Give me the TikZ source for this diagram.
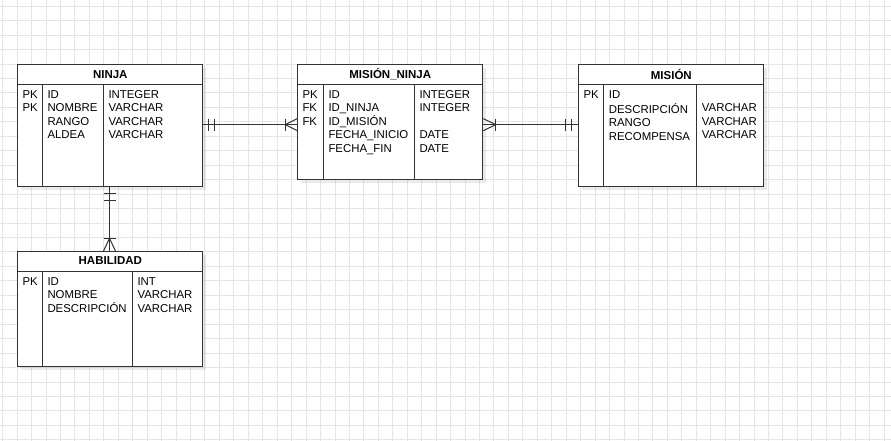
\documentclass[tikz,border=0pt]{standalone}
\usepackage{fontspec}
\setmainfont{Liberation Sans}
\usetikzlibrary{positioning,shadows}

\tikzset{
	rejilla/.style={draw=black!10, line width=0.8pt},
	tabla/.style={draw=black!80, line width=1pt, fill=white, inner sep=0pt, anchor=north west,
		drop shadow={shadow xshift=3pt, shadow yshift=-3pt, fill=black, opacity=0.08}},
	borde/.style={draw=black!80, line width=1pt},
	titulo/.style={font=\fontsize{11.5}{13.5}\selectfont\bfseries, inner sep=0pt},
	col/.style={font=\fontsize{11.4}{13.5}\selectfont, align=left, anchor=north west, inner sep=0pt},
	enlace/.style={draw=black!80, line width=1pt}
}

\begin{document}
\begin{tikzpicture}[x=1pt, y=-1pt]
	\useasboundingbox (0,0) rectangle (891,441);
	\fill[white] (0,0) rectangle (891,441);

	% grid
	\foreach \i in {0,...,61}
		\draw[rejilla] ({2.55+14.45*\i},0) -- ++(0,441);
	\foreach \j in {0,...,30}
		\draw[rejilla] (0,{6.2+14.45*\j}) -- ++(891,0);

	% NINJA
	\node[tabla, minimum width=185pt, minimum height=121.7pt] (ninja) at (17.3,64.3) {};
	\draw[borde] ([yshift=-20pt]ninja.north west) -- ([yshift=-20pt]ninja.north east);
	\draw[borde] ([xshift=25pt,yshift=-20pt]ninja.north west) -- ([xshift=25pt]ninja.south west);
	\draw[borde] ([xshift=86pt,yshift=-20pt]ninja.north west) -- ([xshift=86pt]ninja.south west);
	\node[titulo] (ninja-t) at ([yshift=-10pt]ninja.north) {NINJA};
	\node[col] (ninja-k) at ([xshift=5pt,yshift=-24.5pt]ninja.north west) {\strut PK\\PK};
	\node[col] (ninja-c) at ([xshift=30pt,yshift=-24.5pt]ninja.north west) {\strut ID\\NOMBRE\\RANGO\\ALDEA};
	\node[col] (ninja-d) at ([xshift=91pt,yshift=-24.5pt]ninja.north west) {\strut INTEGER\\VARCHAR\\VARCHAR\\VARCHAR};

	% MISION_NINJA
	\node[tabla, minimum width=185pt, minimum height=115pt] (mnin) at (297.3,64.3) {};
	\draw[borde] ([yshift=-20pt]mnin.north west) -- ([yshift=-20pt]mnin.north east);
	\draw[borde] ([xshift=26pt,yshift=-20pt]mnin.north west) -- ([xshift=26pt]mnin.south west);
	\draw[borde] ([xshift=117pt,yshift=-20pt]mnin.north west) -- ([xshift=117pt]mnin.south west);
	\node[titulo] (mnin-t) at ([yshift=-10pt]mnin.north) {MISIÓN\_NINJA};
	\node[col] (mnin-k) at ([xshift=5pt,yshift=-24.5pt]mnin.north west) {\strut PK\\FK\\FK};
	\node[col] (mnin-c) at ([xshift=31pt,yshift=-24.5pt]mnin.north west) {\strut ID\\ID\_NINJA\\ID\_MISIÓN\\FECHA\_INICIO\\FECHA\_FIN};
	\node[col] (mnin-d) at ([xshift=122pt,yshift=-24.5pt]mnin.north west) {\strut INTEGER\\INTEGER\\\strut\\DATE\\DATE};

	% MISION
	\node[tabla, minimum width=185pt, minimum height=121.7pt] (mision) at (578.3,64.3) {};
	\draw[borde] ([yshift=-20pt]mision.north west) -- ([yshift=-20pt]mision.north east);
	\draw[borde] ([xshift=25.4pt,yshift=-20pt]mision.north west) -- ([xshift=25.4pt]mision.south west);
	\draw[borde] ([xshift=118.4pt,yshift=-20pt]mision.north west) -- ([xshift=118.4pt]mision.south west);
	\node[titulo] (mision-t) at ([yshift=-10pt]mision.north) {MISIÓN};
	\node[col] (mision-k) at ([xshift=5pt,yshift=-24.5pt]mision.north west) {\strut PK};
	\node[col] (mision-c) at ([xshift=30.4pt,yshift=-24.5pt]mision.north west) {\strut ID\\DESCRIPCIÓN\\RANGO\\RECOMPENSA};
	\node[col] (mision-d) at ([xshift=123.4pt,yshift=-24.5pt]mision.north west) {\strut\\VARCHAR\\VARCHAR\\VARCHAR};

	% HABILIDAD
	\node[tabla, minimum width=185pt, minimum height=115pt] (habil) at (17.3,251) {};
	\draw[borde] ([yshift=-20.7pt]habil.north west) -- ([yshift=-20.7pt]habil.north east);
	\draw[borde] ([xshift=25pt,yshift=-20.7pt]habil.north west) -- ([xshift=25pt]habil.south west);
	\draw[borde] ([xshift=115pt,yshift=-20.7pt]habil.north west) -- ([xshift=115pt]habil.south west);
	\node[titulo] (habil-t) at ([yshift=-10pt]habil.north) {HABILIDAD};
	\node[col] (habil-k) at ([xshift=5pt,yshift=-24.5pt]habil.north west) {\strut PK};
	\node[col] (habil-c) at ([xshift=30pt,yshift=-24.5pt]habil.north west) {\strut ID\\NOMBRE\\DESCRIPCIÓN};
	\node[col] (habil-d) at ([xshift=120pt,yshift=-24.5pt]habil.north west) {\strut INT\\VARCHAR\\VARCHAR};

	% NINJA -- MISION_NINJA
	\coordinate (a1) at ([yshift=1pt]ninja.east);
	\coordinate (a2) at (a1 -| mnin.west);
	\draw[enlace] (a1) -- (a2);
	\draw[enlace] ([xshift=5pt,yshift=6pt]a1) -- ([xshift=5pt,yshift=-6pt]a1);
	\draw[enlace] ([xshift=11pt,yshift=6pt]a1) -- ([xshift=11pt,yshift=-6pt]a1);
	\draw[enlace] ([xshift=-12pt,yshift=6pt]a2) -- ([xshift=-12pt,yshift=-6pt]a2);
	\draw[enlace] ([yshift=6pt]a2) -- ([xshift=-12pt]a2) -- ([yshift=-6pt]a2);

	% MISION_NINJA -- MISION
	\coordinate (b2) at ([yshift=1pt]mision.west);
	\coordinate (b1) at (b2 -| mnin.east);
	\draw[enlace] (b1) -- (b2);
	\draw[enlace] ([xshift=12.5pt,yshift=6pt]b1) -- ([xshift=12.5pt,yshift=-6pt]b1);
	\draw[enlace] ([yshift=6pt]b1) -- ([xshift=12.5pt]b1) -- ([yshift=-6pt]b1);
	\draw[enlace] ([xshift=-6.5pt,yshift=6pt]b2) -- ([xshift=-6.5pt,yshift=-6pt]b2);
	\draw[enlace] ([xshift=-12.5pt,yshift=6pt]b2) -- ([xshift=-12.5pt,yshift=-6pt]b2);

	% NINJA -- HABILIDAD
	\coordinate (c1) at ([xshift=-0.8pt]ninja.south);
	\coordinate (c2) at (c1 |- habil.north);
	\draw[enlace] (c1) -- (c2);
	\draw[enlace] ([xshift=-6pt,yshift=-6pt]c1) -- ([xshift=6pt,yshift=-6pt]c1);
	\draw[enlace] ([xshift=-6pt,yshift=-13pt]c1) -- ([xshift=6pt,yshift=-13pt]c1);
	\draw[enlace] ([xshift=-6pt,yshift=12.7pt]c2) -- ([xshift=6pt,yshift=12.7pt]c2);
	\draw[enlace] ([xshift=-6pt]c2) -- ([yshift=12.7pt]c2) -- ([xshift=6pt]c2);
\end{tikzpicture}
\end{document}
